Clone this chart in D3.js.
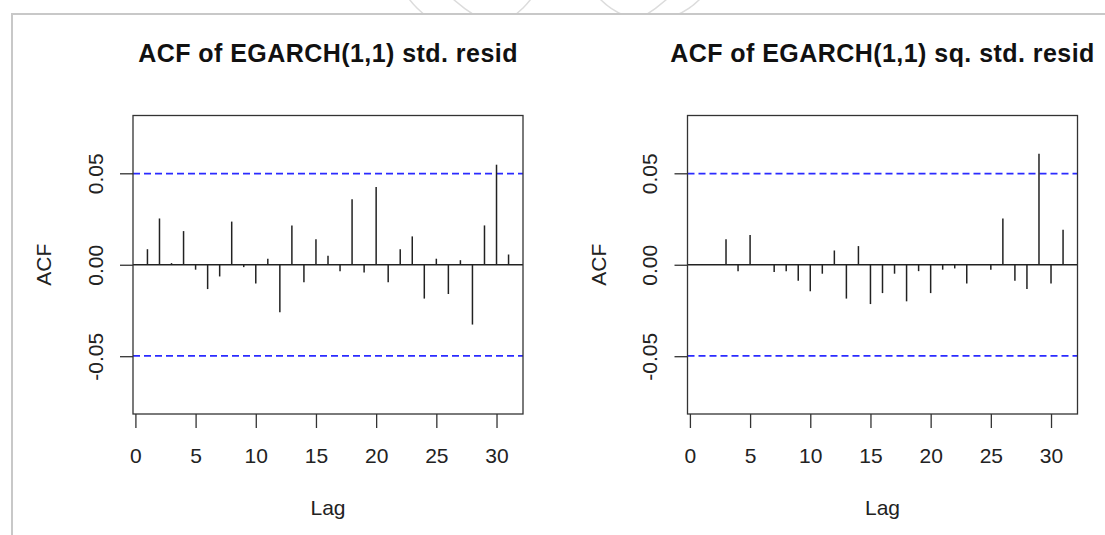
<!DOCTYPE html>
<html>
<head>
<meta charset="utf-8">
<script src="https://cdn.jsdelivr.net/npm/d3@7"></script>
<style>
  body { margin: 0; background: #fff; }
  svg { display: block; font-family: "Liberation Sans", Arial, sans-serif; }
</style>
</head>
<body>
<svg width="1105" height="535"></svg>
<script>
//Chart data
const lags = [1, 2, 3, 4, 5, 6, 7, 8, 9, 10, 11, 12, 13, 14, 15, 16, 17, 18, 19, 20, 21, 22, 23, 24, 25, 26, 27, 28, 29, 30, 31];
const residAcf = [0.0085, 0.0253, 0.0009, 0.0184, -0.0027, -0.0133, -0.0064, 0.0236, -0.0013, -0.0102, 0.0033, -0.026, 0.0215, -0.0095, 0.014, 0.0049, -0.0036, 0.0358, -0.0042, 0.0425, -0.0095, 0.0085, 0.0155, -0.0185, 0.0033, -0.016, 0.0025, -0.0327, 0.0215, 0.0547, 0.0056];
const sqResidAcf = [0.0003, -0.0002, 0.014, -0.0035, 0.0162, 0.0002, -0.004, -0.0035, -0.0087, -0.0145, -0.0049, 0.0078, -0.0185, 0.0102, -0.0215, -0.0155, -0.0049, -0.02, -0.0035, -0.0155, -0.0027, -0.002, -0.0102, 0.0003, -0.0027, 0.0253, -0.0087, -0.0133, 0.0607, -0.0102, 0.0191];
const titles = ["ACF of EGARCH(1,1) std. resid", "ACF of EGARCH(1,1) sq. std. resid"];
const xTicks = [0, 5, 10, 15, 20, 25, 30];
const yTicks = [-0.05, 0, 0.05];
const yTickLabels = ["-0.05", "0.00", "0.05"];
const ciBound = 0.0498;

const svg = d3.select("svg");

//Page frame and faint watermark at the top
const wm = svg.append("g").attr("fill", "none").attr("stroke", "#dcdcdc").attr("stroke-width", 1.5);
wm.append("circle").attr("cx", 470).attr("cy", -45).attr("r", 75);
wm.append("circle").attr("cx", 650).attr("cy", -50).attr("r", 70);
wm.append("circle").attr("cx", 560).attr("cy", -120).attr("r", 160);
svg.append("rect").attr("x", 0).attr("y", 14).attr("width", 1105).attr("height", 521).attr("fill", "#fff");
svg.append("path").attr("d", "M12,535 V14 H1105").attr("fill", "none").attr("stroke", "#c8c8c8").attr("stroke-width", 2);

const panels = [
  { left: 133, values: residAcf, title: titles[0] },
  { left: 687.5, values: sqResidAcf, title: titles[1] }
];
const boxW = 390;
const plotTop = 115.5;
const plotBottom = 414;

panels.forEach(p => {
  const g = svg.append("g").attr("transform", `translate(${p.left}, 0)`);
  const x = d3.scaleLinear().domain([-0.2, 32.2]).range([0, boxW]);
  const y = d3.scaleLinear().domain([-0.0816, 0.0816]).range([plotBottom, plotTop]);

  //axes
  const xAxis = d3.axisBottom(x).tickValues(xTicks).tickSize(14).tickSizeOuter(0).tickPadding(20);
  const gx = g.append("g").attr("transform", `translate(0, ${plotBottom})`).call(xAxis);
  gx.select(".domain").remove();
  gx.selectAll("line").attr("stroke", "#333").attr("stroke-width", 1.3);
  gx.selectAll("text").attr("font-size", 21).attr("fill", "#222").attr("font-family", "Liberation Sans, Arial, sans-serif");

  const yAxis = d3.axisLeft(y).tickValues(yTicks).tickSize(13).tickSizeOuter(0).tickFormat((d, i) => yTickLabels[i]);
  const gy = g.append("g").call(yAxis);
  gy.select(".domain").remove();
  gy.selectAll("line").attr("stroke", "#333").attr("stroke-width", 1.3);
  gy.selectAll("text").attr("x", null).attr("dy", null).attr("text-anchor", "middle")
    .attr("transform", "translate(-30.5, 0) rotate(-90)")
    .attr("font-size", 21).attr("fill", "#222").attr("font-family", "Liberation Sans, Arial, sans-serif");

  //confidence bounds
  [ciBound, -ciBound].forEach(c => {
    g.append("line").attr("x1", 0).attr("x2", boxW).attr("y1", y(c)).attr("y2", y(c))
      .attr("stroke", "#2b2bff").attr("stroke-width", 1.6).attr("stroke-dasharray", "7,4");
  });

  //zero line
  g.append("line").attr("x1", 0).attr("x2", boxW).attr("y1", y(0)).attr("y2", y(0))
    .attr("stroke", "#222").attr("stroke-width", 1.3);

  //acf spikes
  g.selectAll("line.spike").data(p.values).enter().append("line").attr("class", "spike")
    .attr("x1", (d, i) => x(lags[i])).attr("x2", (d, i) => x(lags[i]))
    .attr("y1", y(0)).attr("y2", d => y(d))
    .attr("stroke", "#222").attr("stroke-width", 1.5);

  //plot box
  g.append("rect").attr("x", 0).attr("y", plotTop).attr("width", boxW).attr("height", plotBottom - plotTop)
    .attr("fill", "none").attr("stroke", "#333").attr("stroke-width", 1.3);

  //titles and labels
  g.append("text").text(p.title).attr("x", boxW / 2).attr("y", 62).attr("text-anchor", "middle")
    .attr("font-size", 25).attr("font-weight", "bold").attr("letter-spacing", 0.45).attr("fill", "#111");
  g.append("text").text("Lag").attr("x", boxW / 2).attr("y", 515).attr("text-anchor", "middle")
    .attr("font-size", 21).attr("fill", "#222");
  g.append("text").text("ACF").attr("text-anchor", "middle")
    .attr("transform", `translate(-82, ${y(0)}) rotate(-90)`)
    .attr("font-size", 21).attr("fill", "#222");
});
</script>
</body>
</html>
